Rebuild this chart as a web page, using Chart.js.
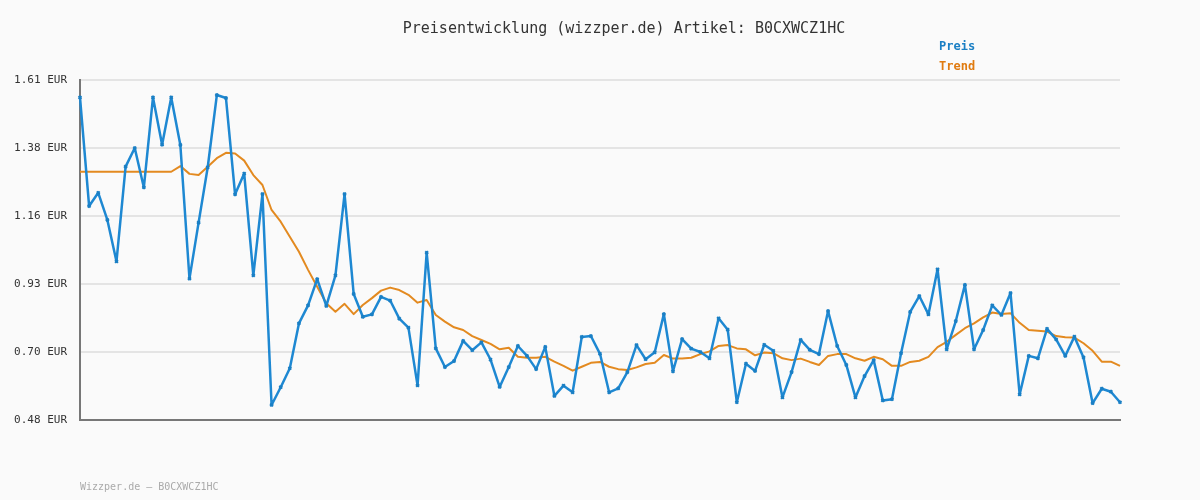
<!DOCTYPE html>
<html>
<head>
<meta charset="utf-8">
<script src="https://cdn.jsdelivr.net/npm/chart.js@4/dist/chart.umd.min.js"></script>
<style>
  body { margin: 0; background: #fafafa; font-family: "DejaVu Sans Mono", monospace; }
  #wrap { position: relative; width: 1200px; height: 500px; }
  .txt { position: absolute; font-size: 13px; white-space: nowrap; }
</style>
</head>
<body>
<div id="wrap">
  <canvas id="chart" width="1200" height="500"></canvas>
  <div class="txt" style="left:0;width:1248px;text-align:center;top:19px;color:#333;font-size:15px">Preisentwicklung (wizzper.de) Artikel: B0CXWCZ1HC</div>
  <div class="txt" style="left:939px;top:39px;color:#1a7fc4;font-weight:bold;font-size:12px">Preis</div>
  <div class="txt" style="left:939px;top:59px;color:#e07b10;font-weight:bold;font-size:12px">Trend</div>
  <div class="txt" style="left:80px;top:481px;color:#aaa;font-size:10px">Wizzper.de – B0CXWCZ1HC</div>
</div>
<script>
// Price values
const preis = [
  1.552, 1.191, 1.235, 1.145, 1.007, 1.322, 1.384, 1.253, 1.552, 1.395,
  1.552, 1.394, 0.950, 1.136, 1.320, 1.560, 1.550, 1.230, 1.299, 0.961,
  1.231, 0.530, 0.589, 0.652, 0.801, 0.861, 0.948, 0.859, 0.961, 1.231,
  0.899, 0.823, 0.831, 0.889, 0.877, 0.817, 0.787, 0.595, 1.036,
  0.718, 0.656, 0.676, 0.743, 0.712, 0.738, 0.681, 0.590, 0.656, 0.726,
  0.693, 0.649, 0.723, 0.560, 0.594, 0.572, 0.756, 0.759, 0.700, 0.572,
  0.585, 0.639, 0.729, 0.682, 0.705, 0.832, 0.642, 0.749, 0.717, 0.706,
  0.685, 0.818, 0.780, 0.539, 0.667, 0.643, 0.730, 0.710,
  0.555, 0.639, 0.746, 0.713, 0.699, 0.842, 0.726, 0.663, 0.555, 0.626,
  0.679, 0.545, 0.549, 0.702, 0.839, 0.892, 0.831, 0.981, 0.715, 0.809,
  0.929, 0.715, 0.779, 0.861, 0.829, 0.902, 0.565, 0.693, 0.685, 0.783,
  0.748, 0.693, 0.757, 0.688, 0.536, 0.584, 0.574, 0.539
];

const trend = [
  1.305, 1.305, 1.305, 1.305, 1.305, 1.305, 1.305, 1.305, 1.305, 1.305,
  1.305, 1.324, 1.298, 1.294, 1.322, 1.350, 1.368, 1.366, 1.342, 1.294,
  1.261, 1.178, 1.139, 1.089, 1.039, 0.979, 0.923, 0.868, 0.840, 0.866,
  0.832, 0.862, 0.885, 0.910, 0.920, 0.912, 0.896, 0.870, 0.879,
  0.829, 0.807, 0.788, 0.779, 0.759, 0.746, 0.733, 0.715, 0.720, 0.690,
  0.687, 0.687, 0.690, 0.674, 0.660, 0.644, 0.657, 0.670, 0.673, 0.657,
  0.649, 0.646, 0.655, 0.666, 0.670, 0.696, 0.684, 0.684, 0.687, 0.699,
  0.708, 0.726, 0.729, 0.718, 0.715, 0.695, 0.704, 0.702,
  0.685, 0.679, 0.684, 0.673, 0.663, 0.693, 0.699, 0.699, 0.685, 0.677,
  0.690, 0.682, 0.660, 0.660, 0.673, 0.677, 0.690, 0.722, 0.740, 0.763,
  0.785, 0.801, 0.821, 0.837, 0.832, 0.835, 0.803, 0.779, 0.777, 0.774,
  0.759, 0.755, 0.754, 0.735, 0.710, 0.674, 0.674, 0.660
];

const labels = preis.map((v, i) => i + 1);
const yTicks = [0.48, 0.706, 0.932, 1.158, 1.384, 1.61];
const yTickLabels = ["0.48 EUR", "0.70 EUR", "0.93 EUR", "1.16 EUR", "1.38 EUR", "1.61 EUR"];
const yMin = 0.48;
const yMax = 1.61;

const monoFont = "DejaVu Sans Mono";

new Chart(document.getElementById("chart"), {
  type: "line",
  data: {
    labels: labels,
    datasets: [
      {
        label: "Preis",
        data: preis,
        borderColor: "#1e88d2",
        backgroundColor: "#1a7fc4",
        borderWidth: 2.5,
        borderJoinStyle: "round",
        pointRadius: 2,
        pointStyle: "crossRot",
        pointBorderWidth: 2,
        pointBorderColor: "#1a7fc4",
        tension: 0,
        order: 1
      },
      {
        label: "Trend",
        data: trend,
        borderColor: "#e38a20",
        borderWidth: 2,
        borderJoinStyle: "round",
        pointRadius: 0,
        tension: 0,
        order: 2
      }
    ]
  },
  options: {
    responsive: false,
    animation: false,
    layout: { padding: { top: 80, right: 80, left: 0, bottom: 0 } },
    plugins: { legend: { display: false }, tooltip: { enabled: false }, title: { display: false } },
    scales: {
      x: {
        offset: false,
        grid: { display: false },
        border: { color: "#777", width: 2 },
        ticks: { display: false },
        afterFit: function (scale) { scale.height = 80; }
      },
      y: {
        min: yMin,
        max: yMax,
        afterBuildTicks: function (scale) {
          scale.ticks = yTicks.map((v) => ({ value: v }));
        },
        afterFit: function (scale) { scale.width = 80; },
        grid: { color: "#e4e4e4", lineWidth: 2, drawTicks: false },
        border: { color: "#777", width: 2 },
        ticks: {
          padding: 13,
          color: "#333",
          font: { family: monoFont, size: 11 },
          callback: function (value, index) { return yTickLabels[index]; }
        }
      }
    }
  }
});
</script>
</body>
</html>
